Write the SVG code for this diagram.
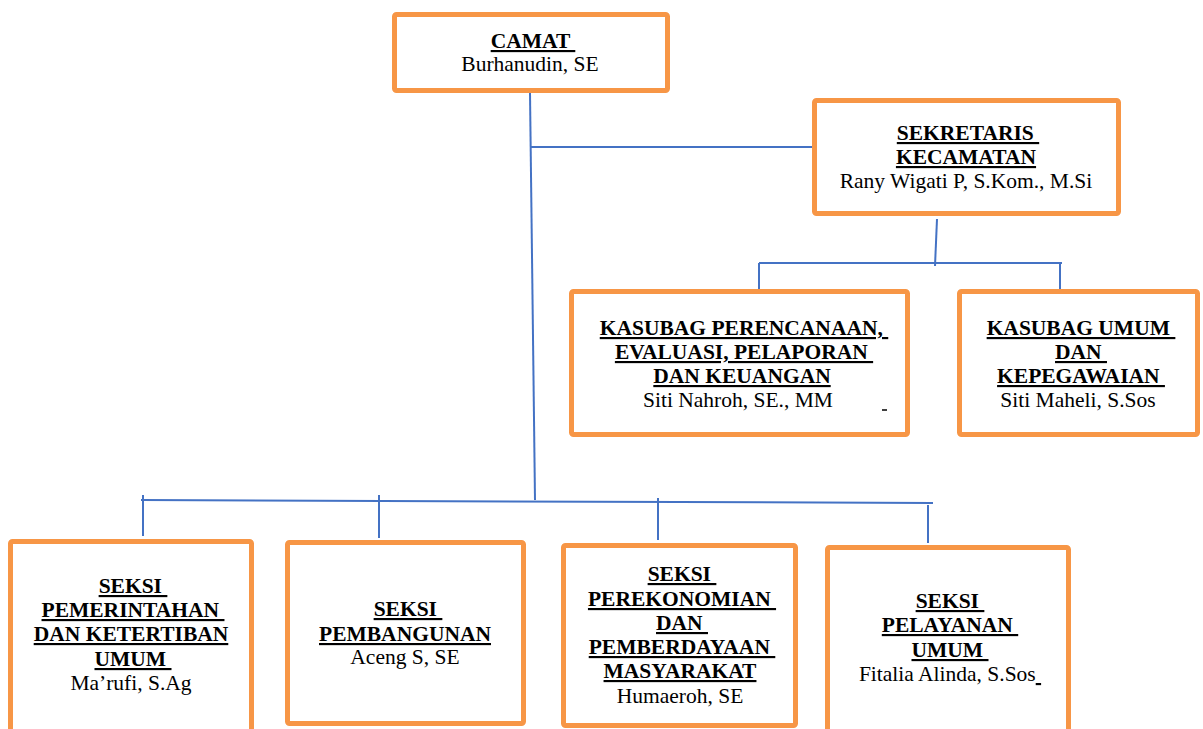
<svg xmlns="http://www.w3.org/2000/svg" width="1203" height="729" viewBox="0 0 1203 729">
<style>
.box{fill:#fff;stroke:#F79646;stroke-width:5}
.ln{stroke:#4472C4;stroke-width:2;fill:none}
text{font-family:"Liberation Serif","Times New Roman",serif;font-size:21.5px;text-anchor:middle;fill:#000;white-space:pre}
.b{font-weight:bold;text-decoration:underline}
</style>
<rect width="1203" height="729" fill="#fff"/>
<g id="connectors">
<line class="ln" x1="530" y1="93" x2="535" y2="500"/>
<line class="ln" x1="530" y1="147" x2="812" y2="147"/>
<line class="ln" x1="937" y1="219" x2="935" y2="266"/>
<line class="ln" x1="759" y1="263" x2="1062" y2="263"/>
<line class="ln" x1="759" y1="263" x2="759" y2="296"/>
<line class="ln" x1="1060" y1="263" x2="1060" y2="296"/>
<line class="ln" x1="141" y1="500" x2="933" y2="503"/>
<line class="ln" x1="143" y1="495" x2="143" y2="536"/>
<line class="ln" x1="379" y1="495" x2="379" y2="538"/>
<line class="ln" x1="658" y1="498" x2="658" y2="540"/>
<line class="ln" x1="928" y1="505" x2="928" y2="543"/>
</g>
<g id="camat">
<rect class="box" x="394.5" y="14.5" width="273" height="76" rx="2"/>
<text x="533" y="48" class="b" xml:space="preserve">CAMAT </text>
<text x="530" y="71">Burhanudin, SE</text>
</g>
<g id="sekretaris">
<rect class="box" x="814.5" y="100.5" width="304" height="113" rx="2"/>
<text x="968" y="140" class="b" xml:space="preserve">SEKRETARIS </text>
<text x="966" y="164" class="b">KECAMATAN</text>
<text x="966" y="188">Rany Wigati P, S.Kom., M.Si</text>
</g>
<g id="kasubag-perencanaan">
<rect class="box" x="571.5" y="291.5" width="336" height="143" rx="2"/>
<text x="744" y="335" class="b" xml:space="preserve">KASUBAG PERENCANAAN, </text>
<text x="744" y="359" class="b" xml:space="preserve">EVALUASI, PELAPORAN </text>
<text x="742" y="383" class="b">DAN KEUANGAN</text>
<text x="738" y="407">Siti Nahroh, SE., MM</text>
<line x1="882" y1="410" x2="887" y2="410" stroke="#000" stroke-width="1.5"/>
</g>
<g id="kasubag-umum">
<rect class="box" x="959.5" y="291.5" width="238" height="143" rx="2"/>
<text x="1081" y="335" class="b" xml:space="preserve">KASUBAG UMUM </text>
<text x="1081" y="359" class="b" xml:space="preserve">DAN </text>
<text x="1081" y="383" class="b" xml:space="preserve">KEPEGAWAIAN </text>
<text x="1078" y="407">Siti Maheli, S.Sos</text>
</g>
<g id="seksi-pemerintahan">
<rect class="box" x="10.5" y="541.5" width="241" height="195" rx="2"/>
<text x="133" y="593" class="b" xml:space="preserve">SEKSI </text>
<text x="133" y="617" class="b" xml:space="preserve">PEMERINTAHAN </text>
<text x="131" y="641" class="b">DAN KETERTIBAN</text>
<text x="133" y="666" class="b" xml:space="preserve">UMUM </text>
<text x="131" y="690">Ma’rufi, S.Ag</text>
</g>
<g id="seksi-pembangunan">
<rect class="box" x="287.5" y="542.5" width="236" height="181" rx="2"/>
<text x="408" y="616" class="b" xml:space="preserve">SEKSI </text>
<text x="405" y="641" class="b">PEMBANGUNAN</text>
<text x="405" y="664">Aceng S, SE</text>
</g>
<g id="seksi-perekonomian">
<rect class="box" x="563.5" y="545.5" width="232" height="180" rx="2"/>
<text x="682" y="581" class="b" xml:space="preserve">SEKSI </text>
<text x="682" y="606" class="b" xml:space="preserve">PEREKONOMIAN </text>
<text x="682" y="630" class="b" xml:space="preserve">DAN </text>
<text x="682" y="654" class="b" xml:space="preserve">PEMBERDAYAAN </text>
<text x="680" y="678" class="b">MASYARAKAT</text>
<text x="680" y="703">Humaeroh, SE</text>
</g>
<g id="seksi-pelayanan">
<rect class="box" x="827.5" y="547.5" width="241" height="190" rx="2"/>
<text x="950" y="608" class="b" xml:space="preserve">SEKSI </text>
<text x="950" y="632" class="b" xml:space="preserve">PELAYANAN </text>
<text x="950" y="657" class="b" xml:space="preserve">UMUM </text>
<text x="950" y="681">Fitalia Alinda, S.Sos<tspan text-decoration="underline"> </tspan></text>
</g>
</svg>
